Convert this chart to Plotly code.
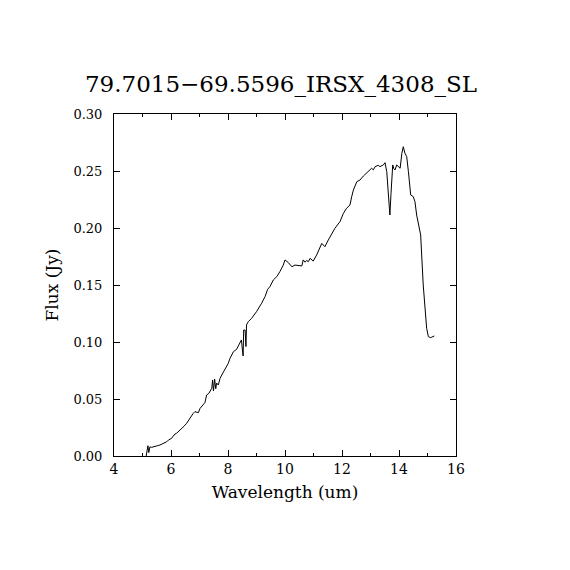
import plotly.graph_objects as go

# spectrum
wavelength = [5.13, 5.16, 5.19, 5.22, 5.26, 5.32, 5.44, 5.52, 5.61, 5.70, 5.79, 5.85, 5.91,
              6.02, 6.08, 6.14, 6.20, 6.26, 6.37, 6.46, 6.55, 6.61, 6.67, 6.78, 6.84, 6.96,
              7.02, 7.13, 7.19, 7.25, 7.33, 7.43, 7.46, 7.49, 7.53, 7.57, 7.60, 7.66, 7.72,
              7.78, 7.89, 8.01, 8.07, 8.19, 8.30, 8.36, 8.42, 8.47, 8.53, 8.55, 8.60, 8.63,
              8.65, 8.71, 8.83, 9.00, 9.18, 9.30, 9.39, 9.47, 9.59, 9.71, 9.82, 9.94, 10.00,
              10.12, 10.24, 10.35, 10.59, 10.64, 10.70, 10.76, 10.82, 10.88, 10.99, 11.11,
              11.29, 11.40, 11.52, 11.64, 11.75, 11.93, 12.05, 12.16, 12.28, 12.34, 12.40,
              12.52, 12.63, 12.75, 12.92, 13.04, 13.10, 13.16, 13.27, 13.33, 13.45, 13.51,
              13.57, 13.62, 13.68, 13.72, 13.78, 13.82, 13.86, 13.92, 14.04, 14.10, 14.15,
              14.21, 14.27, 14.33, 14.41, 14.50, 14.56, 14.62, 14.71, 14.76, 14.85, 14.91,
              14.97, 15.03, 15.11, 15.24]
flux = [0.000, 0.006, 0.009, 0.003, 0.008, 0.0076, 0.0088, 0.0090, 0.0096, 0.0105, 0.0117, 0.0125, 0.0140,
        0.0155, 0.0175, 0.0193, 0.0200, 0.0213, 0.0243, 0.0262, 0.0287, 0.0310, 0.0340, 0.0374, 0.0389, 0.0380,
        0.0418, 0.0447, 0.0468, 0.0535, 0.0550, 0.0594, 0.0667, 0.0570, 0.0675, 0.0590, 0.0640, 0.0623, 0.0680,
        0.0710, 0.0754, 0.0813, 0.0857, 0.0915, 0.0935, 0.0960, 0.0988, 0.1018, 0.0877, 0.1105, 0.1105, 0.0960,
        0.1150, 0.1178, 0.1208, 0.1266, 0.1340, 0.1398, 0.1462, 0.1485, 0.1544, 0.1573, 0.1617, 0.1675, 0.1720,
        0.1696, 0.1660, 0.1675, 0.1667, 0.1720, 0.1700, 0.1715, 0.1705, 0.1734, 0.1710, 0.1763,
        0.1865, 0.1836, 0.1895, 0.1953, 0.1997, 0.2056, 0.2129, 0.2173, 0.2202, 0.2275, 0.2333,
        0.2406, 0.2421, 0.2456, 0.2494, 0.2524, 0.2510, 0.2538, 0.2550, 0.2538, 0.2553, 0.2573,
        0.2494, 0.2333, 0.2114, 0.2304, 0.2553, 0.2520, 0.2509, 0.2553, 0.2524, 0.2655, 0.2713,
        0.2655, 0.2626, 0.2494, 0.2290, 0.2275, 0.2231, 0.2114, 0.1997, 0.1939, 0.1500, 0.1295,
        0.1120, 0.1047, 0.1038, 0.1053]

title_text = "79.7015\u221269.5596_IRSX_4308_SL"
x_label = "Wavelength (um)"
y_label = "Flux (Jy)"

serif = "DejaVu Serif"

fig = go.Figure()
fig.add_trace(go.Scatter(x=wavelength, y=flux, mode="lines",
                         line=dict(color="black", width=1), showlegend=False))

axis_common = dict(showline=True, linecolor="black", linewidth=1, mirror="allticks",
                   ticks="inside", tickcolor="black", showgrid=False, zeroline=False)

fig.update_xaxes(range=[4, 16], dtick=2, tick0=4, ticklen=6,
                 tickfont=dict(family=serif, size=14, color="black"),
                 minor=dict(dtick=1, ticks="inside", ticklen=3, tickcolor="black"),
                 title=dict(text=x_label, font=dict(family=serif, size=17, color="black"), standoff=10),
                 **axis_common)
fig.update_yaxes(range=[0, 0.30], dtick=0.05, tickformat=".2f", ticklen=6, ticklabelstandoff=8,
                 tickfont=dict(family=serif, size=13, color="black"),
                 title=dict(text=y_label, font=dict(family=serif, size=17, color="black"), standoff=10),
                 **axis_common)

# page body adds an 8px offset, so margins are shifted to keep the frame at 114..456
fig.update_layout(
    width=570, height=570,
    margin=dict(l=106, r=122, t=106, b=122),
    paper_bgcolor="white", plot_bgcolor="white",
    title=dict(text=title_text, x=(281 - 8) / 570, xanchor="center", y=1 - 76 / 570, yanchor="middle",
               font=dict(family=serif, size=23, color="black")),
)

fig.write_html("out.html")
